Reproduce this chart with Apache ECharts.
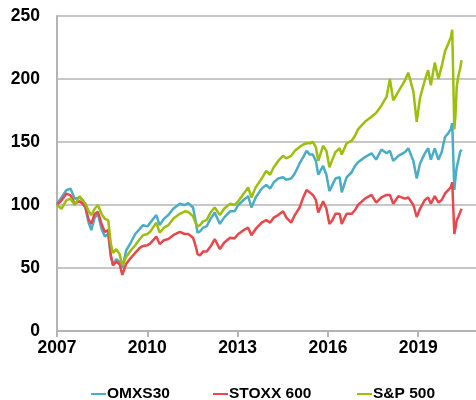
<!DOCTYPE html>
<html>
<head>
<meta charset="utf-8">
<script src="https://cdn.jsdelivr.net/npm/echarts@6/dist/echarts.min.js"></script>
<style>
  html, body { margin: 0; padding: 0; background: #fff; }
  #chart { width: 476px; height: 400px; }
</style>
</head>
<body>
<div id="chart"></div>
<script>
// time as decimal years, values indexed to 100 at start of 2007
const years = [
  2007.00, 2007.15, 2007.31, 2007.45, 2007.59, 2007.75, 2007.85, 2007.95,
  2008.05, 2008.14, 2008.25, 2008.36, 2008.48, 2008.59, 2008.70, 2008.79,
  2008.86, 2008.97, 2009.08, 2009.17, 2009.30, 2009.47, 2009.60, 2009.75,
  2009.86, 2010.00, 2010.10, 2010.30, 2010.41, 2010.55, 2010.70, 2010.86,
  2011.08, 2011.25, 2011.36, 2011.52, 2011.60, 2011.67, 2011.75, 2011.85,
  2011.97, 2012.10, 2012.24, 2012.41, 2012.55, 2012.75, 2012.90, 2013.02,
  2013.20, 2013.35, 2013.46, 2013.60, 2013.80, 2013.95, 2014.08, 2014.20,
  2014.35, 2014.51, 2014.62, 2014.78, 2014.90, 2015.06, 2015.18, 2015.29,
  2015.40, 2015.50, 2015.60, 2015.68, 2015.84, 2015.95, 2016.05, 2016.15,
  2016.25, 2016.39, 2016.46, 2016.62, 2016.79, 2016.90, 2017.00, 2017.23,
  2017.45, 2017.60, 2017.78, 2017.95, 2018.06, 2018.17, 2018.34, 2018.56,
  2018.67, 2018.84, 2018.95, 2019.06, 2019.22, 2019.33, 2019.42, 2019.55,
  2019.67, 2019.78, 2019.89, 2020.00, 2020.08, 2020.13, 2020.20, 2020.24,
  2020.28, 2020.33, 2020.39, 2020.44
];

const omxs30 = [
  101, 106, 111.7, 113, 105, 106, 104, 97,
  86, 80, 90, 93, 81, 75, 77, 59,
  53, 57, 55, 50, 64, 71, 77, 81,
  84, 83, 86, 92, 84, 89, 92, 97,
  101, 100, 101.5, 98, 88, 78, 79, 82,
  83, 89, 94, 85, 90, 95, 95, 100,
  104, 107, 98, 106, 113, 116, 113, 118,
  121, 122, 120, 121, 125, 133, 138, 143,
  140, 140, 135, 124, 131, 124, 111, 116,
  121, 122, 110, 122, 126, 131, 134, 138,
  141, 136, 144, 141, 143, 135, 139, 142,
  145, 135, 121, 133, 141, 145, 136, 145,
  136, 142, 154, 157, 160, 165, 112, 122,
  130, 135, 142, 144
];

const stoxx600 = [
  100, 103.7, 109, 107.7, 101, 103, 101, 98,
  88.5, 85, 93, 94.5, 85, 78.6, 80, 60,
  52, 55, 53, 44.5, 53.5, 58.5, 62, 66,
  67.5, 68, 69.5, 75, 69, 72, 73, 76,
  78.6, 77, 77, 74, 68, 61, 60, 63,
  63, 67, 73, 65, 70, 74, 73.5, 77,
  80, 82, 76, 81, 86, 88, 86, 90,
  92, 95, 90, 86, 92, 98, 106, 112,
  110, 108, 104, 94, 103, 97, 85, 88,
  93, 93, 85, 93, 93, 96, 100, 105,
  108, 102, 106, 108, 108, 101, 107, 105,
  106, 100, 90.5, 97, 104, 106, 101, 107,
  102, 104, 109, 112, 114, 118, 77, 82,
  88, 90.5, 94, 97
];

const sp500 = [
  100, 97, 103.7, 105, 100, 107, 104, 101,
  95, 92, 97, 100, 93, 89, 88, 69,
  62, 65, 61, 52, 59, 64.5, 68, 73,
  76, 77, 79, 86, 78, 82, 84, 89,
  93, 95, 94.5, 91, 86, 83, 84, 87,
  88, 94, 98, 92, 97, 101, 100, 103,
  109, 114, 106, 114, 121, 127, 124, 130,
  135, 139, 137, 139, 143, 146, 148, 149,
  149, 150, 146, 135, 147, 143, 130, 136,
  142, 145, 140, 149, 151, 155, 160, 166,
  170, 173, 179, 186, 200, 183, 190, 199,
  205, 190, 166, 185, 199, 207, 195, 213,
  200, 210, 222, 228, 233, 239, 160, 172,
  194, 202, 208, 215
];

const seriesNames = ['OMXS30', 'STOXX 600', 'S&P 500'];
const seriesColors = ['#4BACC6', '#E8474C', '#9BBF0C'];
const yearTicks = [2007, 2010, 2013, 2016, 2019];

const font = '"Liberation Sans", Arial, sans-serif';

const toPoints = vals => years.map((y, i) => [y, vals[i]]);

// one legend per entry so each sits where the original has it
const legendLeft = [91, 213, 357];
const legends = seriesNames.map((name, i) => ({
  top: 386,
  left: legendLeft[i],
  padding: 0,
  itemWidth: 15,
  itemHeight: 2,
  icon: 'rect',
  textStyle: {
    fontFamily: font,
    fontWeight: 'bold',
    fontSize: 15.5,
    color: '#000',
    padding: [0, 0, 0, -4]
  },
  data: [name]
}));

const chart = echarts.init(document.getElementById('chart'));
chart.setOption({
  animation: false,
  color: seriesColors,
  grid: { left: 57, right: 0, top: 16, bottom: 69 },
  xAxis: {
    type: 'value',
    min: 2007,
    max: 2020.92,
    interval: 3,
    axisLine: { show: true, lineStyle: { color: '#b4b4b4', width: 2 } },
    axisTick: { show: true, length: 6, lineStyle: { color: '#b4b4b4', width: 2 } },
    splitLine: { show: false },
    axisLabel: {
      showMaxLabel: false,
      margin: 8,
      fontFamily: font,
      fontWeight: 'bold',
      fontSize: 17.5,
      color: '#000',
      formatter: v => (yearTicks.includes(Math.round(v)) && Math.abs(v - Math.round(v)) < 1e-6) ? String(Math.round(v)) : ''
    }
  },
  yAxis: {
    type: 'value',
    min: 0,
    max: 250,
    interval: 50,
    axisLine: { show: true, lineStyle: { color: '#b4b4b4', width: 2 } },
    axisTick: { show: false },
    splitLine: { show: true, lineStyle: { color: '#b4b4b4', width: 1.5 } },
    axisLabel: {
      margin: 17,
      fontFamily: font,
      fontWeight: 'bold',
      fontSize: 17.5,
      color: '#000'
    }
  },
  legend: legends,
  series: [
    { name: seriesNames[0], data: toPoints(omxs30) },
    { name: seriesNames[1], data: toPoints(stoxx600) },
    { name: seriesNames[2], data: toPoints(sp500) }
  ].map(s => Object.assign({
    type: 'line',
    showSymbol: false,
    lineStyle: { width: 2.5 }
  }, s))
});
</script>
</body>
</html>
